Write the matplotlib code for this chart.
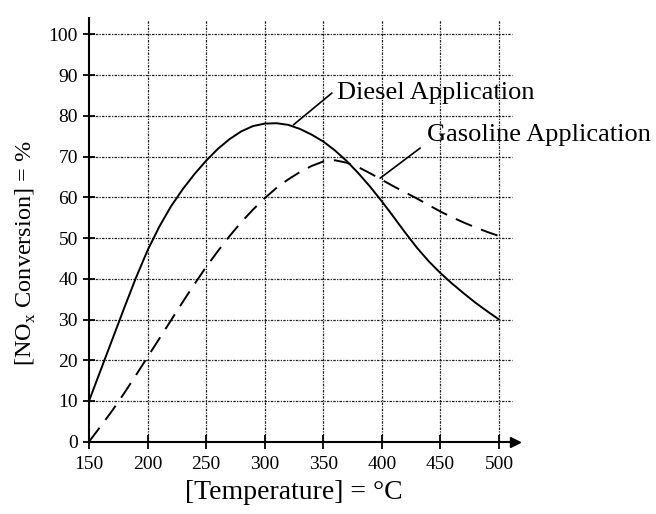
import matplotlib.pyplot as plt

plt.rcParams['font.family'] = ['Liberation Serif', 'DejaVu Serif']
plt.rcParams['mathtext.fontset'] = 'custom'
plt.rcParams['mathtext.rm'] = 'Liberation Serif'

# data
diesel_temp = [150, 160, 170, 180, 190, 200, 210, 220, 230, 240, 250, 260, 270,
               280, 290, 300, 310, 320, 330, 340, 350, 360, 370, 380, 390, 400,
               410, 420, 430, 440, 450, 460, 470, 480, 490, 500]
diesel_conv = [10, 17.6, 25.2, 32.8, 40.2, 47.0, 52.8, 57.8, 62.0, 65.7, 69.0, 71.9, 74.3,
               76.2, 77.5, 78.1, 78.2, 77.8, 76.8, 75.4, 73.7, 71.5, 68.9, 65.9, 62.6, 59.0,
               55.2, 51.3, 47.6, 44.3, 41.4, 38.8, 36.4, 34.1, 32.0, 30]

gasoline_temp = [150, 160, 170, 180, 190, 200, 210, 220, 230, 240, 250, 260, 270,
                 280, 290, 300, 310, 320, 330, 340, 350, 360, 370, 380, 390, 400,
                 410, 420, 430, 440, 450, 460, 470, 480, 490, 500]
gasoline_conv = [0, 3.8, 7.7, 11.9, 16.3, 20.8, 25.3, 29.8, 34.3, 38.7, 42.9, 46.8, 50.5,
                 53.9, 57.0, 59.8, 62.3, 64.4, 66.2, 67.7, 68.8, 69.1, 68.5, 67.4, 65.9, 64.3,
                 62.7, 61.2, 59.7, 58.1, 56.5, 55.1, 53.8, 52.6, 51.5, 50.5]

x_ticks = [150, 200, 250, 300, 350, 400, 450, 500]
y_ticks = [0, 10, 20, 30, 40, 50, 60, 70, 80, 90, 100]

fig = plt.figure(figsize=(6.56, 5.14), dpi=100)
ax = fig.add_axes([0.1357, 0.1407, 0.650, 0.824])

# grid (drawn by hand so it stops short of the arrows)
grid_style = dict(color='#222222', linewidth=0.9, linestyle=(0, (2, 1, 1, 1)), zorder=1)
ax.hlines(y_ticks[1:], 150, 511, **grid_style)
ax.vlines(x_ticks[1:], 0, 103.6, **grid_style)

ax.plot(diesel_temp, diesel_conv, color='black', linewidth=1.4, zorder=3)
ax.plot(gasoline_temp, gasoline_conv, color='black', linewidth=1.4,
        linestyle=(0, (9, 5)), zorder=3)

# labels with leader lines
leader = dict(arrowstyle='-', color='black', linewidth=1.2, shrinkA=0, shrinkB=0)
ax.text(361.5, 85.6, 'Diesel Application', fontsize=19, va='center', ha='left')
ax.annotate('', xy=(324.5, 77.8), xytext=(357.3, 85.6), arrowprops=leader)
ax.text(438.4, 75.4, 'Gasoline Application', fontsize=19, va='center', ha='left',
        clip_on=False)
ax.annotate('', xy=(398.5, 64.7), xytext=(432.7, 72.1), arrowprops=leader)

ax.set_xlim(150, 514)
ax.set_ylim(0, 104)
ax.set_xticks(x_ticks)
ax.set_yticks(y_ticks)
ax.tick_params(axis='both', direction='inout', labelsize=14, width=1.3)
ax.tick_params(axis='x', length=10, pad=5)
ax.tick_params(axis='y', length=8, pad=4)

for side in ['top', 'right']:
    ax.spines[side].set_visible(False)
for side in ['left', 'bottom']:
    ax.spines[side].set_linewidth(1.5)

# arrow heads on the axes
ax.plot(1, 0, '>k', markersize=7, transform=ax.get_yaxis_transform(), clip_on=False)
ax.plot(0, 1, '^k', markersize=7, transform=ax.get_xaxis_transform(), clip_on=False)

ax.set_xlabel('[Temperature] = °C', fontsize=20, va='center')
ax.xaxis.set_label_coords(0.48, -0.121)
ax.set_ylabel(r'[NO$_\mathregular{x}$ Conversion] = %', fontsize=17.5, va='center')
ax.yaxis.set_label_coords(-0.148, 0.444)

fig.savefig('out.png', dpi=100)
